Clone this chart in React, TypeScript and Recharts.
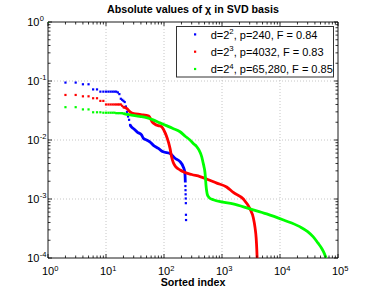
import { ScatterChart, Scatter, XAxis, YAxis, ReferenceLine } from "recharts";

// ── Axis ticks (log10 decades + minor 2..9 steps) ──

const xMajorTicks = [1, 10, 100, 1000, 10000, 100000];
const yMajorTicks = [0.0001, 0.001, 0.01, 0.1, 1];
const minorSteps = [2, 3, 4, 5, 6, 7, 8, 9];
const xGridValues = [10, 100, 1000, 10000];
const yGridValues = [0.001, 0.01, 0.1];

// ── Series: [sorted index, |chi|] ──

// d=2^2, p=240
const blueDots: [number, number][] = [
  [1, 1], [2, 0.094], [3, 0.094], [4, 0.088], [5, 0.088], [6, 0.072], [7, 0.072],
  [8, 0.066], [9, 0.066], [10, 0.066], [11, 0.066], [12, 0.066], [13, 0.066],
  [14, 0.066], [15, 0.066], [16, 0.064], [17, 0.06], [18, 0.05], [19, 0.048],
  [20, 0.046], [21, 0.044], [22, 0.037], [23, 0.03], [24, 0.025], [25, 0.022],
  [26, 0.018],
  [234, 0.00166], [235, 0.00141], [236, 0.0012], [237, 0.00102], [238, 0.00085],
  [239, 0.00054], [240, 0.00044],
];
const blueCurve: [number, number][] = [
  [26, 0.018], [27, 0.017], [30, 0.0155], [35, 0.0135], [41, 0.0122], [44, 0.0107],
  [50, 0.01], [57, 0.0093], [65, 0.0082], [80, 0.0072], [97, 0.0063], [127, 0.0059],
  [155, 0.0049], [189, 0.0043], [215, 0.0035], [228, 0.0029], [232, 0.0022],
  [233, 0.0019],
];

// d=2^3, p=4032
const redDots: [number, number][] = [
  [1, 1], [2, 0.058], [3, 0.058], [4, 0.055], [5, 0.055], [6, 0.051], [7, 0.051],
  [8, 0.046], [9, 0.046], [10, 0.04], [11, 0.04], [12, 0.04], [13, 0.04], [14, 0.04],
  [15, 0.04], [16, 0.04], [17, 0.04], [18, 0.04], [19, 0.038], [20, 0.036],
];
const redCurve: [number, number][] = [
  [20, 0.036], [21, 0.0355], [23, 0.034], [26, 0.03], [30, 0.028], [40, 0.027],
  [55, 0.0255], [62, 0.0205], [70, 0.0185], [80, 0.0175], [91, 0.0168], [100, 0.0145],
  [111, 0.0115], [120, 0.009], [127, 0.0072], [135, 0.0052], [145, 0.0041],
  [160, 0.0035], [190, 0.0031], [215, 0.0029], [300, 0.0026], [417, 0.0024],
  [600, 0.0021], [813, 0.00186], [1200, 0.0016], [1567, 0.00129], [2330, 0.001],
  [3040, 0.00068], [3467, 0.00048], [3707, 0.00033], [3880, 0.00022],
  [3980, 0.00014], [4032, 0.0001],
];

// d=2^4, p=65,280
const greenDots: [number, number][] = [
  [1, 1], [2, 0.036], [3, 0.036], [4, 0.033], [5, 0.033], [6, 0.0295], [7, 0.0295],
  [8, 0.0295], [9, 0.029], [10, 0.029], [11, 0.029], [12, 0.029], [13, 0.029],
  [14, 0.029], [15, 0.0285], [16, 0.0285], [17, 0.0285], [18, 0.0285], [19, 0.0285],
  [20, 0.028],
];
const greenCurve: [number, number][] = [
  [20, 0.028], [25, 0.0268], [38, 0.0252], [50, 0.024], [65, 0.0219], [85, 0.0195],
  [110, 0.0175], [140, 0.0158], [189, 0.0138], [230, 0.0117], [280, 0.01],
  [330, 0.0085], [363, 0.0078], [400, 0.0068], [447, 0.0052], [470, 0.0042],
  [490, 0.0035], [509, 0.0028], [520, 0.0022], [530, 0.0017], [545, 0.00135],
  [560, 0.00118], [590, 0.00108], [617, 0.00103], [708, 0.00097], [1000, 0.00089],
  [1549, 0.00083], [3040, 0.00068], [5890, 0.00056], [11500, 0.00044],
  [21900, 0.00034], [30000, 0.00028], [37150, 0.00023], [45000, 0.00018],
  [52500, 0.000145], [58000, 0.00012], [62500, 0.0001],
];

const series = [
  { key: "d2", color: "#0000ff", dots: blueDots, curve: blueCurve, exp: "2", rest: ", p=240, F = 0.84" },
  { key: "d3", color: "#ff0000", dots: redDots, curve: redCurve, exp: "3", rest: ", p=4032, F = 0.83" },
  { key: "d4", color: "#00ff00", dots: greenDots, curve: greenCurve, exp: "4", rest: ", p=65,280, F = 0.85" },
];

const FONT = "'Liberation Sans', Arial, Helvetica, sans-serif";
const AXIS = "#000";

const withMinor = (majors: number[]) =>
  [...majors, ...majors.slice(0, -1).flatMap((m) => minorSteps.map((s) => m * s))].sort(
    (a, b) => a - b
  );
const xTicks = withMinor(xMajorTicks);
const yTicks = withMinor(yMajorTicks);

const toPoints = (arr: [number, number][]) => arr.map(([x, y]) => ({ x, y }));

const decade = (v: number) => Math.round(Math.log10(v));
const isMajor = (v: number) => Math.abs(Math.log10(v) - decade(v)) < 1e-6;

// ── Custom inward tick marks (MATLAB style) with 10^n labels ──

function LogTick(props: any) {
  const { x, y, payload, side } = props;
  const v = payload.value;
  const major = isMajor(v);
  const len = major ? 4 : 2.5;
  let line;
  if (side === "bottom") line = <line x1={x} y1={y} x2={x} y2={y - len} />;
  else if (side === "top") line = <line x1={x} y1={y} x2={x} y2={y + len} />;
  else if (side === "left") line = <line x1={x} y1={y} x2={x + len} y2={y} />;
  else line = <line x1={x} y1={y} x2={x - len} y2={y} />;

  return (
    <g>
      <g stroke={AXIS} strokeWidth={0.8}>{line}</g>
      {major && side === "bottom" && (
        <g fontFamily={FONT} fill="#000">
          <text x={x} y={y + 17} textAnchor="middle" fontSize={11}>10</text>
          <text x={x + 6.2} y={y + 12.5} fontSize={7.5}>{decade(v)}</text>
        </g>
      )}
      {major && side === "left" && (
        <g fontFamily={FONT} fill="#000">
          <text x={x - 8.5} y={y + 4} textAnchor="end" fontSize={11}>10</text>
          <text x={x - 8.2} y={y - 1.5} fontSize={7.5}>{decade(v)}</text>
        </g>
      )}
    </g>
  );
}

function AxisCaption(props: any) {
  const { viewBox, text, dy } = props;
  const cx = viewBox ? viewBox.x + viewBox.width / 2 : 193;
  const cy = viewBox ? viewBox.y + dy : 258 + dy;
  return (
    <text x={cx} y={cy} textAnchor="middle" fontFamily={FONT} fontWeight="bold" fontSize={10.7} fill="#000">
      {text}
    </text>
  );
}

const NoShape = () => <g />;

function DotShape(props: any) {
  const { cx, cy, fill } = props;
  return <rect x={cx - 1.1} y={cy - 1.1} width={2.2} height={2.2} fill={fill} />;
}

export default function App() {
  const common = {
    type: "number" as const,
    scale: "log" as const,
    allowDataOverflow: true,
    interval: 0 as const,
    tickLine: false,
    tickSize: 0,
    tickMargin: 0,
    axisLine: { stroke: AXIS, strokeWidth: 0.9 },
  };

  return (
    <div style={{ position: "absolute", left: 0, top: 0, width: 374, height: 292, background: "#fff" }}>
      <ScatterChart width={374} height={292} margin={{ top: 0, right: 0, bottom: 0, left: 0 }}>
        <XAxis
          {...common}
          xAxisId="b"
          dataKey="x"
          domain={[1, 100000]}
          ticks={xTicks}
          height={34}
          tick={<LogTick side="bottom" />}
          label={<AxisCaption text="Sorted index" dy={28} />}
        />
        <XAxis
          {...common}
          xAxisId="t"
          orientation="top"
          dataKey="x"
          domain={[1, 100000]}
          ticks={xTicks}
          height={22}
          tick={<LogTick side="top" />}
        />
        <YAxis
          {...common}
          yAxisId="l"
          dataKey="y"
          domain={[0.0001, 1]}
          ticks={yTicks}
          width={48}
          tick={<LogTick side="left" />}
        />
        <YAxis
          {...common}
          yAxisId="r"
          orientation="right"
          dataKey="y"
          domain={[0.0001, 1]}
          ticks={yTicks}
          width={36}
          tick={<LogTick side="right" />}
        />

        {/* dotted grid at the decades */}
        {xGridValues.map((v) => (
          <ReferenceLine key={`gx${v}`} xAxisId="b" yAxisId="l" x={v} stroke="#b8b8b8" strokeWidth={0.8} strokeDasharray="1 2" />
        ))}
        {yGridValues.map((v) => (
          <ReferenceLine key={`gy${v}`} xAxisId="b" yAxisId="l" y={v} stroke="#b8b8b8" strokeWidth={0.8} strokeDasharray="1 2" />
        ))}

        {series.map((s) => [
          <Scatter
            key={`${s.key}-curve`}
            xAxisId="b"
            yAxisId="l"
            data={toPoints(s.curve)}
            fill={s.color}
            line={{ stroke: s.color, strokeWidth: 2.8 }}
            lineJointType="monotoneX"
            shape={NoShape}
            isAnimationActive={false}
          />,
          <Scatter
            key={`${s.key}-dots`}
            xAxisId="b"
            yAxisId="l"
            data={toPoints(s.dots)}
            fill={s.color}
            shape={DotShape}
            isAnimationActive={false}
          />,
        ])}
      </ScatterChart>

      {/* title + legend overlay */}
      <svg width={374} height={292} style={{ position: "absolute", left: 0, top: 0, pointerEvents: "none" }}>
        <text x={193} y={13} textAnchor="middle" fontFamily={FONT} fontWeight="bold" fontSize={10.7} fill="#000">
          Absolute values of χ in SVD basis
        </text>
        <rect x={176.5} y={26.5} width={157} height={50.5} fill="#fff" stroke="#333" strokeWidth={1} />
        {series.map((s, i) => {
          const base = 38.5 + i * 17.3;
          return (
            <g key={s.key}>
              <rect x={194} y={base - 5.2} width={2.2} height={2.2} fill={s.color} />
              <text x={210.7} y={base} fontFamily={FONT} fontSize={11} fill="#000">
                d=2
                <tspan dy={-4.5} fontSize={7.8}>{s.exp}</tspan>
                <tspan dy={4.5}>{s.rest}</tspan>
              </text>
            </g>
          );
        })}
      </svg>
    </div>
  );
}
